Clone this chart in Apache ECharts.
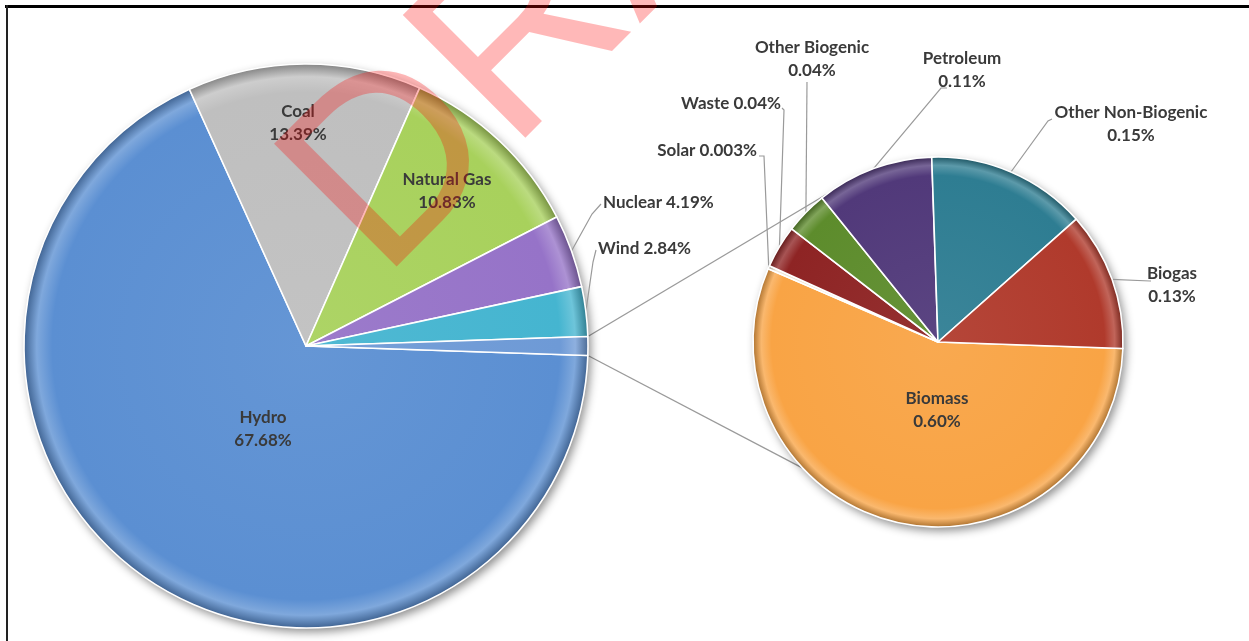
<!DOCTYPE html>
<html><head><meta charset="utf-8">
<script src="https://cdn.jsdelivr.net/npm/echarts@6/dist/echarts.min.js"></script>
<style>html,body{margin:0;padding:0;background:#fff}#c{width:1249px;height:641px}</style>
</head><body><div id="c"></div>
<script>
// ---- data ----
const mainNames = ['Hydro', 'Coal', 'Natural Gas', 'Nuclear', 'Wind'];
const mainValues = [67.68, 13.39, 10.83, 4.19, 2.84];
const subNames = ['Biomass', 'Solar', 'Waste', 'Other Biogenic', 'Petroleum', 'Other Non-Biogenic', 'Biogas'];
const subValues = [0.60, 0.003, 0.04, 0.04, 0.11, 0.15, 0.13];

// ---- styles / layout ----
const mainColors = ['#5b8fd2', '#bfbfbf', '#a8d15c', '#9673c8', '#45b5d0'];
const otherColor = '#6e9ad6';
const subColors = ['#f9a445', '#efe4d4', '#8e2424', '#5d8c2c', '#51397a', '#2e7d92', '#b03a2c'];
const MAIN = { cx: 306, cy: 346, r: 282 };
const SUB = { cx: 938, cy: 342, r: 185 };
const subStart = -2;
const singleLine = { 'Nuclear': 1, 'Wind': 1, 'Solar': 1, 'Waste': 1 };
const mainLabelPos = {
  'Hydro': [263, 429, 'center'], 'Coal': [298, 123, 'center'], 'Natural Gas': [447, 191, 'center'],
  'Nuclear': [603, 203, 'left'], 'Wind': [598, 249, 'left']
};
const mainLeader = { 'Nuclear': [[592, 214], [601, 204]], 'Wind': [[593, 262], [596, 250]] };
const subLabelPos = {
  'Biomass': [937, 410, 'center'], 'Solar': [757, 151, 'right'], 'Waste': [781, 104, 'right'],
  'Other Biogenic': [812, 59, 'center'], 'Petroleum': [962, 70, 'center'],
  'Other Non-Biogenic': [1131, 124, 'center'], 'Biogas': [1172, 285, 'center']
};
const subLeader = {
  'Solar': [[764, 156], [759, 156]], 'Waste': [[784, 110], [782, 108]],
  'Other Biogenic': [[807, 82], [807, 82]], 'Petroleum': [[941, 88], [947, 88]],
  'Other Non-Biogenic': [[1048, 121], [1052, 119]], 'Biogas': [[1150, 281], [1151, 281]]
};
const subConnAngles = [127, -137];

const sum = a => a.reduce((s, v) => s + v, 0);
const otherValue = sum(subValues);
const mainAll = mainValues.concat([otherValue]);
const mainStart = -180 * otherValue / sum(mainAll);

function shade(hex, amt) {
  const n = parseInt(hex.slice(1), 16);
  let r = (n >> 16) & 255, g = (n >> 8) & 255, b = n & 255;
  const t = amt > 0 ? 255 : 0, p = Math.abs(amt);
  r = Math.round(r + (t - r) * p); g = Math.round(g + (t - g) * p); b = Math.round(b + (t - b) * p);
  return 'rgb(' + r + ',' + g + ',' + b + ')';
}
function bevel(color, P) {
  return new echarts.graphic.RadialGradient(P.cx, P.cy, P.r, [
    { offset: 0, color: shade(color, 0.06) },
    { offset: 0.9, color: color },
    { offset: 0.955, color: shade(color, 0.22) },
    { offset: 1, color: shade(color, -0.3) }
  ], true);
}
function midAngles(values, start) {
  const T = sum(values); let a = start;
  return values.map(v => { const s = 360 * v / T; const m = a - s / 2; a -= s; return m; });
}
function edge(deg, P) {
  const t = deg * Math.PI / 180;
  return [P.cx + P.r * Math.cos(t), P.cy - P.r * Math.sin(t)];
}
function pct(v) { return (v >= 0.01 ? v.toFixed(2) : v.toFixed(3)) + '%'; }
function fmt(p) {
  const v = p.data.raw;
  return singleLine[p.name] ? p.name + ' ' + pct(v) : p.name + '\n' + pct(v);
}
const mainMids = midAngles(mainAll, mainStart);
const subMids = midAngles(subValues, subStart);

const textStyle = { fontFamily: 'Lato', fontWeight: 'bold', fontSize: 17, color: '#3a3a3a', lineHeight: 23 };

const mainData = mainNames.map((n, i) => ({
  name: n, value: mainValues[i], raw: mainValues[i],
  itemStyle: { color: bevel(mainColors[i], MAIN) },
  label: Object.assign({ show: true, position: mainLeader[n] ? 'outside' : 'inside' }, textStyle),
  labelLine: { show: !!mainLeader[n], lineStyle: { color: '#9a9a9a', width: 1.2 } }
})).concat([{
  name: 'Other', value: otherValue, raw: otherValue,
  itemStyle: { color: bevel(otherColor, MAIN) }, label: { show: false }, labelLine: { show: false }
}]);

const subData = subNames.map((n, i) => ({
  name: n, value: subValues[i], raw: subValues[i],
  itemStyle: { color: bevel(subColors[i], SUB) },
  label: Object.assign({ show: true, position: subLeader[n] ? 'outside' : 'inside' }, textStyle),
  labelLine: { show: !!subLeader[n], lineStyle: { color: '#9a9a9a', width: 1.2 } }
}));

function layoutFor(names, posMap, leaderMap, mids, P) {
  return function (params) {
    const i = params.dataIndex;
    const n = names[i];
    const pos = posMap[n];
    if (!pos) return {};
    const out = { x: pos[0], y: pos[1], align: pos[2], verticalAlign: 'middle' };
    if (leaderMap[n]) {
      out.labelLinePoints = [edge(mids[i], P), leaderMap[n][0], leaderMap[n][1]];
    }
    return out;
  };
}

const shadowPie = P => ({
  type: 'pie', silent: true, center: [P.cx, P.cy], radius: P.r, z: 1,
  label: { show: false }, labelLine: { show: false }, emphasis: { disabled: true },
  data: [{ value: 1, itemStyle: { color: '#ffffff', shadowBlur: 10, shadowColor: 'rgba(0,0,0,0.45)', shadowOffsetX: 3, shadowOffsetY: 4 } }]
});

const connA = [edge(-mainStart, MAIN), edge(subConnAngles[0], SUB)];
const connB = [edge(mainStart, MAIN), edge(subConnAngles[1], SUB)];

const chart = echarts.init(document.getElementById('c'), null, { renderer: 'canvas' });
chart.setOption({
  backgroundColor: '#ffffff',
  animation: false,
  graphic: [
    { type: 'line', z: 0, silent: true, shape: { x1: connA[0][0], y1: connA[0][1], x2: connA[1][0], y2: connA[1][1] }, style: { stroke: '#9a9a9a', lineWidth: 1.3 } },
    { type: 'line', z: 0, silent: true, shape: { x1: connB[0][0], y1: connB[0][1], x2: connB[1][0], y2: connB[1][1] }, style: { stroke: '#9a9a9a', lineWidth: 1.3 } },
    { type: 'line', z: 50, silent: true, shape: { x1: 5, y1: 6.5, x2: 1249, y2: 6.5 }, style: { stroke: '#000', lineWidth: 3 } },
    { type: 'line', z: 50, silent: true, shape: { x1: 7, y1: 5, x2: 7, y2: 641 }, style: { stroke: '#222', lineWidth: 2 } },
    { type: 'text', z: 100, silent: true, x: 422, y: 321, rotation: Math.PI / 4,
      style: { text: 'DRAFT', fontSize: 252, fontFamily: 'Liberation Sans', fill: 'rgba(255,0,0,0.28)', textAlign: 'left', textVerticalAlign: 'bottom', align: 'left', verticalAlign: 'bottom' } }
  ],
  series: [
    shadowPie(MAIN),
    {
      type: 'pie', z: 2, center: [MAIN.cx, MAIN.cy], radius: MAIN.r, startAngle: mainStart, clockwise: true,
      avoidLabelOverlap: false, emphasis: { disabled: true },
      itemStyle: { borderColor: '#ffffff', borderWidth: 1.6 },
      label: { formatter: fmt },
      labelLayout: layoutFor(mainNames, mainLabelPos, mainLeader, mainMids, MAIN),
      data: mainData
    },
    shadowPie(SUB),
    {
      type: 'pie', z: 2, center: [SUB.cx, SUB.cy], radius: SUB.r, startAngle: subStart, clockwise: true,
      avoidLabelOverlap: false, emphasis: { disabled: true }, minAngle: 0,
      itemStyle: { borderColor: '#ffffff', borderWidth: 1.6 },
      label: { formatter: fmt },
      labelLayout: layoutFor(subNames, subLabelPos, subLeader, subMids, SUB),
      data: subData
    }
  ]
});
</script></body></html>
